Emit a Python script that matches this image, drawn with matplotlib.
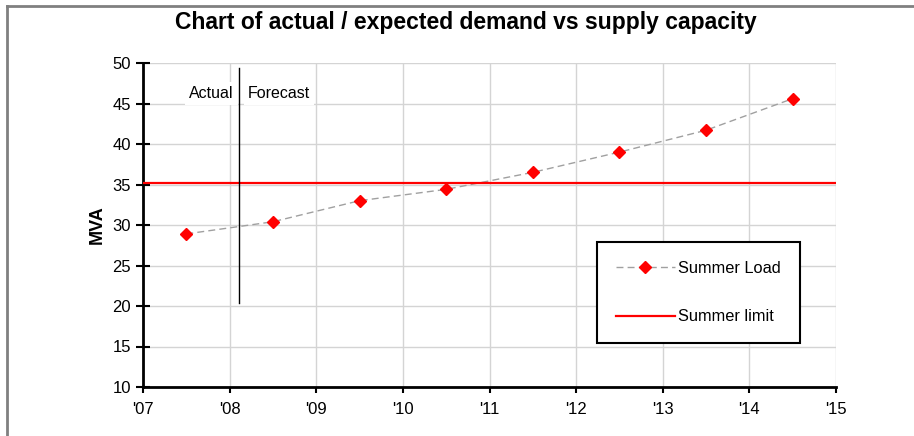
import matplotlib
matplotlib.use("Agg")
import matplotlib.pyplot as plt
from matplotlib.lines import Line2D

plt.rcParams['font.family'] = ['Liberation Sans', 'DejaVu Sans']

# data
load_x = [2007.5, 2008.5, 2009.5, 2010.5, 2011.5, 2012.5, 2013.5, 2014.5]
summer_load = [28.9, 30.4, 33.0, 34.4, 36.5, 39.0, 41.7, 45.6]
summer_limit = 35.2
year_ticks = [2007, 2008, 2009, 2010, 2011, 2012, 2013, 2014, 2015]
year_labels = ["'07", "'08", "'09", "'10", "'11", "'12", "'13", "'14", "'15"]
split_year = 2008.11
split_range = [20.4, 49.4]

fig = plt.figure(figsize=(9.14, 4.36), dpi=100)
ax = fig.add_axes([143 / 914, 1 - 387 / 436, 693 / 914, 324 / 436])

ax.set_xlim(2007, 2015)
ax.set_ylim(10, 50)
ax.set_xticks(year_ticks)
ax.set_xticklabels(year_labels)
ax.set_yticks(range(10, 51, 5))
ax.grid(True, color='#d4d4d4', lw=1)
ax.set_axisbelow(True)

for s in ['top', 'right']:
    ax.spines[s].set_visible(False)
for s in ['left', 'bottom']:
    ax.spines[s].set_linewidth(2)
    ax.spines[s].set_color('black')

ax.tick_params(axis='y', direction='inout', length=9.5, width=1.5, pad=4, labelsize=12)
ax.tick_params(axis='x', direction='out', length=4.5, width=1.5, pad=6, labelsize=12)

ax.plot(load_x, summer_load, color='#a0a0a0', lw=1, dashes=(5, 3),
        marker='D', markersize=6.5, markerfacecolor='red', markeredgecolor='red',
        label='Summer Load', zorder=3)
ax.axhline(summer_limit, color='red', lw=1.6, label='Summer limit', zorder=3)

ax.text(split_year - 0.06, 46.2, 'Actual', ha='right', va='center', fontsize=11.5,
        bbox=dict(facecolor='white', edgecolor='none', pad=3), zorder=2)
ax.text(split_year + 0.1, 46.2, 'Forecast', ha='left', va='center', fontsize=11.5,
        bbox=dict(facecolor='white', edgecolor='none', pad=3), zorder=2)
ax.plot([split_year, split_year], split_range, color='black', lw=1, zorder=4)

ax.set_ylabel('MVA', fontsize=13, fontweight='bold', labelpad=5)

leg = ax.legend(loc='upper left', bbox_to_anchor=(0.655, 0.4475), fontsize=11.8,
                frameon=True, fancybox=False, framealpha=1, edgecolor='black',
                borderpad=1.15, labelspacing=2.05, handlelength=3.6, handletextpad=0.2,
                borderaxespad=0)
leg.get_frame().set_linewidth(1.5)

fig.text(466 / 914, 1 - 22 / 436, 'Chart of actual / expected demand vs supply capacity',
         ha='center', va='center', fontsize=16.5, fontweight='bold')

# frame lines on the left and top of the picture
fig.add_artist(Line2D([7 / 914, 7 / 914], [0, 1 - 6 / 436], color='#808080', lw=2))
fig.add_artist(Line2D([7 / 914, 1], [1 - 6 / 436, 1 - 6 / 436], color='#808080', lw=2))

fig.savefig('out.png', dpi=100)
